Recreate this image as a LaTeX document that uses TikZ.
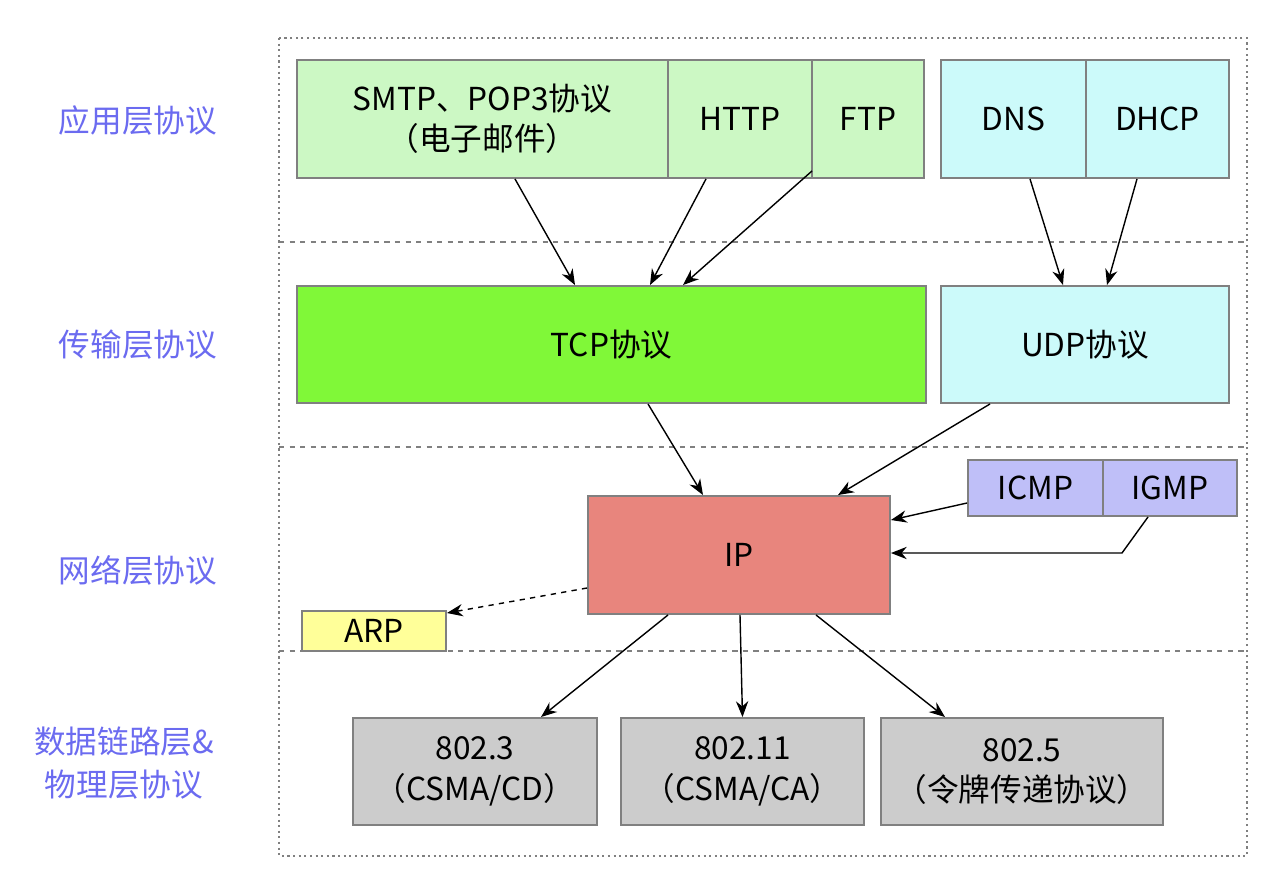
\documentclass[tikz,border=0pt]{standalone}
\usepackage{fontspec}
\setmainfont{Noto Sans CJK SC}
\usetikzlibrary{arrows.meta}

\definecolor{appgreen}{HTML}{CCF8C4}
\definecolor{appcyan}{HTML}{CCFAFA}
\definecolor{tcpgreen}{HTML}{80F838}
\definecolor{ipred}{HTML}{E8857D}
\definecolor{icmpblue}{HTML}{BFBFF8}
\definecolor{arpyellow}{HTML}{FFFF99}
\definecolor{linkgray}{HTML}{CCCCCC}
\definecolor{layerblue}{HTML}{6B6BF0}
\definecolor{framegray}{HTML}{808080}

\tikzset{
    proto/.style = {draw=framegray, line width=1.1pt, align=center,
        inner sep=0pt, font=\fontsize{18}{23}\selectfont},
    layer/.style = {text=layerblue, align=center,
        font=\fontsize{18}{24}\selectfont},
    link/.style  = {-{Stealth[length=9pt,width=7pt]}, line width=0.8pt},
    divider/.style = {draw=framegray, dashed, line width=0.9pt}
}

\begin{document}
\begin{tikzpicture}[x=0.02cm, y=-0.02cm]
    \useasboundingbox (0,0) rectangle (1278,886);

    % frame and layer dividers
    \draw [framegray, dotted, line width=1.2pt] (279,38) rectangle (1247,856);
    \foreach \y in {242, 447, 651}
        \draw [divider] (279,\y) -- (1247,\y);

    % layer labels
    \node (lapp)  [layer] at (138,120) {应用层协议};
    \node (ltra)  [layer] at (138,345) {传输层协议};
    \node (lnet)  [layer] at (138,570) {网络层协议};
    \node (llink) [layer] at (124,763) {数据链路层\&\\物理层协议};

    % application layer
    \node (smtp) [proto, fill=appgreen, minimum width=7.42cm, minimum height=2.36cm]
        at (482.5,119) {SMTP、POP3协议\\（电子邮件）};
    \node (http) [proto, fill=appgreen, minimum width=2.88cm, minimum height=2.36cm]
        at (740,119) {HTTP};
    \node (ftp)  [proto, fill=appgreen, minimum width=2.24cm, minimum height=2.36cm]
        at (868,119) {FTP};
    \node (dns)  [proto, fill=appcyan, minimum width=2.9cm, minimum height=2.36cm]
        at (1013.5,119) {DNS};
    \node (dhcp) [proto, fill=appcyan, minimum width=2.86cm, minimum height=2.36cm]
        at (1157.5,119) {DHCP};

    % transport layer
    \node (tcp) [proto, fill=tcpgreen, minimum width=12.58cm, minimum height=2.34cm]
        at (611.5,344.5) {TCP协议};
    \node (udp) [proto, fill=appcyan, minimum width=5.76cm, minimum height=2.34cm]
        at (1085,344.5) {UDP协议};

    % network layer
    \node (ip)   [proto, fill=ipred, minimum width=6.04cm, minimum height=2.36cm]
        at (739,555) {IP};
    \node (icmp) [proto, fill=icmpblue, minimum width=2.7cm, minimum height=1.12cm]
        at (1035.5,488) {ICMP};
    \node (igmp) [proto, fill=icmpblue, minimum width=2.68cm, minimum height=1.12cm]
        at (1170,488) {IGMP};
    \node (arp)  [proto, fill=arpyellow, minimum width=2.88cm, minimum height=0.8cm]
        at (374,631) {ARP};

    % link layer
    \node (eth)  [proto, fill=linkgray, minimum width=4.88cm, minimum height=2.14cm]
        at (475,771.5) {802.3\\（CSMA/CD）};
    \node (wifi) [proto, fill=linkgray, minimum width=4.86cm, minimum height=2.14cm]
        at (742.5,771.5) {802.11\\（CSMA/CA）};
    \node (ring) [proto, fill=linkgray, minimum width=5.64cm, minimum height=2.14cm]
        at (1022,771.5) {802.5\\（令牌传递协议）};

    \coordinate (igmpbend) at (1122,553);

    % arrows
    \draw [link] ([xshift=0.65cm]smtp.south) -- ([xshift=-0.73cm]tcp.north);
    \draw [link] ([xshift=-0.68cm]http.south) -- ([xshift=0.77cm]tcp.north);
    \draw [link] ([xshift=-1.12cm,yshift=0.16cm]ftp.south) -- ([xshift=1.43cm]tcp.north);
    \draw [link] ([xshift=0.33cm]dns.south) -- ([xshift=-0.44cm]udp.north);
    \draw [link] ([xshift=-0.41cm]dhcp.south) -- ([xshift=0.44cm]udp.north);
    \draw [link] ([xshift=0.73cm]tcp.south) -- ([xshift=-0.72cm]ip.north);
    \draw [link] ([xshift=-1.9cm]udp.south) -- ([xshift=1.98cm]ip.north);
    \draw [link] ([yshift=-0.3cm]icmp.west) -- ([yshift=0.7cm]ip.east);
    \draw [link] ([xshift=-0.44cm]igmp.south) -- (igmpbend) -- ([yshift=0.04cm]ip.east);
    \draw [link, dashed] ([yshift=-0.66cm]ip.west) -- ([yshift=0.36cm]arp.east);
    \draw [link] ([xshift=-1.42cm]ip.south) -- ([xshift=1.32cm]eth.north);
    \draw [link] ([xshift=0.02cm]ip.south) -- (wifi.north);
    \draw [link] ([xshift=1.54cm]ip.south) -- ([xshift=-1.54cm]ring.north);
\end{tikzpicture}
\end{document}
